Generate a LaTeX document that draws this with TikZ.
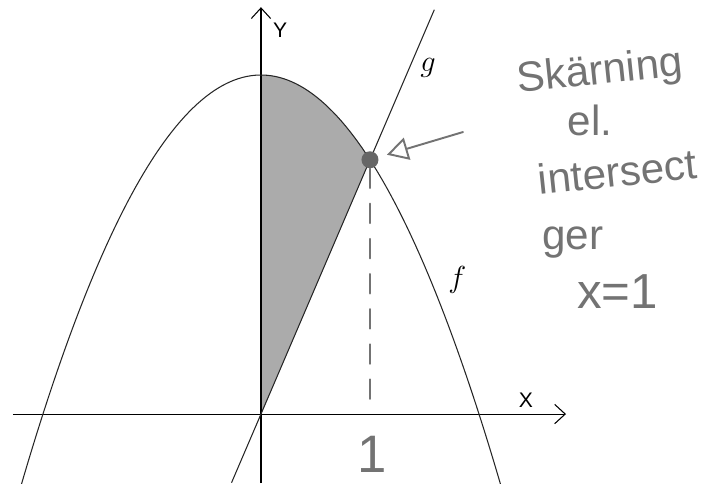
\documentclass[tikz,border=0pt]{standalone}
\usepackage{fontspec}
\setsansfont{Liberation Sans}
\usepackage{tikz}
\usetikzlibrary{arrows.meta, positioning}

\begin{document}
\begin{tikzpicture}[
  x=2.18cm, y=1.695cm,
  axis/.style={line width=0.6pt, -{Straight Barb[length=6pt, width=11pt]}},
  curve/.style={line width=0.6pt, black!85},
  region/.style={fill=black!33},
  pencil/.style={line width=1.3pt, black!55, line cap=round},
  hand/.style={font=\sffamily\fontsize{24}{26}\selectfont, text=black!55, inner sep=0pt},
  lbl/.style={font=\sffamily\fontsize{12}{14}\selectfont, inner sep=0pt},
  fname/.style={font=\fontsize{18}{20}\selectfont, inner sep=0pt},
  dot/.style={circle, fill=black!60, minimum size=0.34cm, inner sep=0pt}]
\useasboundingbox (-2.394,-0.814) rectangle (4.174,4.885);
\clip (-2.394,-0.814) rectangle (4.174,4.885);
\coordinate (O) at (0,0);
% shaded area between g and f
\fill[region] (O) -- (1,3) -- plot[domain=1:0, samples=40] (\x,{4-\x*\x}) -- cycle;
% axes
\draw[axis] (-2.275,0) -- (2.798,0);
\draw[axis] (0,-0.814) -- (0,4.80);
\node[lbl] (xlab) at (2.43,0.165) {X};
\node[lbl] (ylab) at (0.175,4.53) {Y};
% f and g
\draw[curve] plot[domain=-2.25:2.25, samples=120] (\x,{4-\x*\x});
\draw[curve] (-0.27,-0.81) -- (1.59,4.77);
\node[fname] (g) at (1.532,4.08) {$g$};
\node[fname] (f) at (1.80,1.58) {$f$};
% intersection
\node[dot] (P) at (1,3) {};
\draw[pencil, dash pattern=on 11pt off 9pt] (P) -- (P |- O);
\node[hand, font=\sffamily\fontsize{30}{32}\selectfont] (one) at (1.02,-0.47) {1};
% note
\node[hand, rotate=6] (t1) at (3.11,4.02) {Skärning};
\node[hand] (t2) at (3.02,3.47) {el.};
\node[hand, rotate=6] (t3) at (3.27,2.86) {intersect};
\node[hand] (t4) at (2.86,2.02) {ger};
\node[hand, font=\sffamily\fontsize{28}{30}\selectfont] (t5) at (3.27,1.45) {x=1};
\coordinate (note) at (1.853,3.327);
\draw[pencil, line width=1.1pt, -{Triangle[open, length=12pt, width=13pt]}, shorten >=5pt] (note) -- (P);
\end{tikzpicture}
\end{document}
